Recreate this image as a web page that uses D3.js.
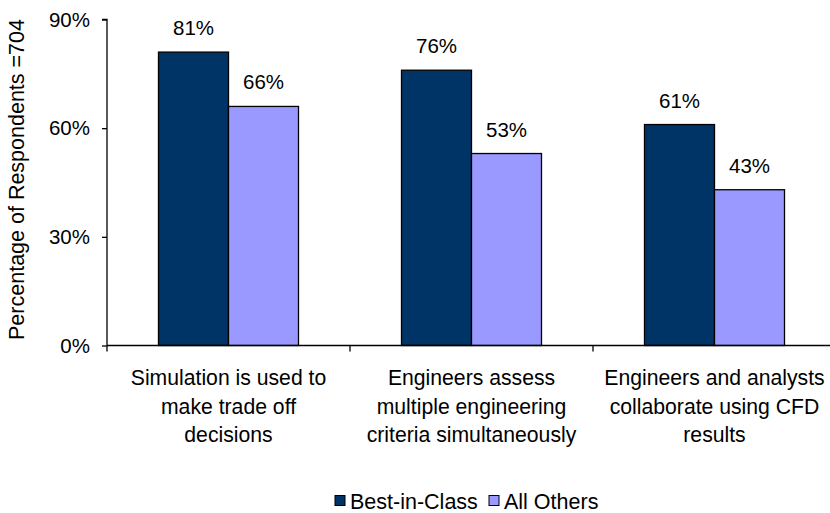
<!DOCTYPE html>
<html>
<head>
<meta charset="utf-8">
<script src="https://cdn.jsdelivr.net/npm/d3@7/dist/d3.min.js"></script>
<style>
  html, body { margin: 0; padding: 0; background: #fff; }
  svg { display: block; font-family: Arial, "Liberation Sans", sans-serif; }
</style>
</head>
<body>
<svg id="chart" width="830" height="513"></svg>
<script>
// Survey data: share of respondents per practice
const categories = [
  ["Simulation is used to", "make trade off", "decisions"],
  ["Engineers assess", "multiple engineering", "criteria simultaneously"],
  ["Engineers and analysts", "collaborate using CFD", "results"]
];
const seriesNames = ["Best-in-Class", "All Others"];
const bestInClass = [0.81, 0.76, 0.61];
const allOthers = [0.66, 0.53, 0.43];
const yTicks = [0, 0.3, 0.6, 0.9];
const yTitle = "Percentage of Respondents =704";

const colors = ["#003366", "#9999FF"];
const seriesValues = [bestInClass, allOthers];

const svg = d3.select("#chart");
const plotLeft = 107, plotRight = 836, plotTop = 19.5, plotBottom = 345.5;

const catIdx = categories.map((d, i) => i);
const x = d3.scaleBand().domain(catIdx).range([plotLeft, plotRight]).padding(0);
const groupW = 140;
const x1 = d3.scaleBand().domain(seriesNames).range([0, groupW]).padding(0);
const y = d3.scaleLinear().domain([0, 0.9]).range([plotBottom, plotTop]);
const fmt = d3.format(".0%");

// Bars with value labels
catIdx.forEach(ci => {
  const gx = x(ci) + (x.bandwidth() - groupW) / 2;
  seriesNames.forEach((s, si) => {
    const v = seriesValues[si][ci];
    svg.append("rect")
      .attr("x", gx + x1(s))
      .attr("y", y(v))
      .attr("width", x1.bandwidth())
      .attr("height", y(0) - y(v))
      .attr("fill", colors[si])
      .attr("stroke", "#000")
      .attr("stroke-width", 1.3);
    svg.append("text")
      .attr("x", gx + x1(s) + x1.bandwidth() / 2)
      .attr("y", y(v) - 17)
      .attr("text-anchor", "middle")
      .attr("font-size", 20.5)
      .attr("fill", "#000")
      .text(fmt(v));
  });
});

// Y axis
const yAxis = d3.axisLeft(y).tickValues(yTicks).tickFormat(fmt).tickSize(5).tickPadding(12);
const gy = svg.append("g").attr("transform", `translate(${plotLeft},0)`).call(yAxis);
gy.select(".domain").attr("stroke", "#000").attr("stroke-width", 1.3).attr("d", `M-5,${plotTop}H0V${plotBottom}`);
gy.selectAll(".tick line").attr("stroke", "#000").attr("stroke-width", 1.3);
gy.selectAll(".tick text").attr("font-size", 20.5).attr("fill", "#000");
gy.attr("font-family", null).attr("font-size", null);

// X axis line with category boundary ticks
svg.append("line").attr("x1", plotLeft).attr("x2", 830).attr("y1", plotBottom).attr("y2", plotBottom)
  .attr("stroke", "#000").attr("stroke-width", 1.3);
catIdx.forEach(ci => {
  svg.append("line")
    .attr("x1", x(ci)).attr("x2", x(ci))
    .attr("y1", plotBottom).attr("y2", plotBottom + 6)
    .attr("stroke", "#000").attr("stroke-width", 1.3);
});

// Category labels
catIdx.forEach(ci => {
  const cx = x(ci) + x.bandwidth() / 2;
  const t = svg.append("text")
    .attr("x", cx)
    .attr("y", 385)
    .attr("text-anchor", "middle")
    .attr("font-size", 21.2)
    .attr("fill", "#000");
  categories[ci].forEach((line, li) => {
    t.append("tspan")
      .attr("x", cx)
      .attr("dy", li === 0 ? 0 : 28.5)
      .text(line);
  });
});

// Y axis title
svg.append("text")
  .attr("transform", `translate(24,${(plotTop + plotBottom) / 2 - 3}) rotate(-90)`)
  .attr("text-anchor", "middle")
  .attr("font-size", 21.5)
  .attr("fill", "#000")
  .text(yTitle);

// Legend
const legendItems = [{ x: 335, label: seriesNames[0] }, { x: 489, label: seriesNames[1] }];
legendItems.forEach((d, i) => {
  svg.append("rect")
    .attr("x", d.x).attr("y", 495.5)
    .attr("width", 10).attr("height", 10)
    .attr("fill", colors[i]).attr("stroke", "#000").attr("stroke-width", 1);
  svg.append("text")
    .attr("x", d.x + 15).attr("y", 508.5)
    .attr("font-size", 21.5).attr("fill", "#000")
    .text(d.label);
});
</script>
</body>
</html>
